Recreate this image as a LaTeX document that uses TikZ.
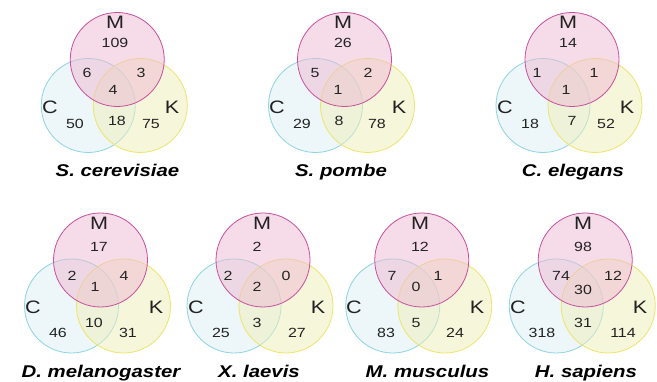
\documentclass[tikz,border=0pt]{standalone}
\usepackage{fontspec}
\setmainfont{Liberation Sans}
\newfontfamily\widefont[FakeStretch=1.2]{Liberation Sans}
\definecolor{cfill}{HTML}{DDF1F5}
\definecolor{kfill}{HTML}{EFEFB9}
\definecolor{mfill}{HTML}{EFB9D3}
\definecolor{cline}{HTML}{8ED4E2}
\definecolor{kline}{HTML}{EDE56A}
\definecolor{mline}{HTML}{C8509E}
\definecolor{txt}{HTML}{222222}
\tikzset{
  setbase/.style={circle, minimum size=94pt, inner sep=0pt, fill opacity=0.5, draw opacity=1, line width=0.8pt},
  setc/.style={setbase, fill=cfill, draw=cline},
  setk/.style={setbase, fill=kfill, draw=kline},
  setm/.style={setbase, fill=mfill, draw=mline},
  num/.style={inner sep=0pt, font=\widefont\fontsize{13.3}{13.3}\selectfont, text=txt},
  setlab/.style={inner sep=0pt, font=\widefont\fontsize{18}{18}\selectfont, text=txt},
  ttl/.style={inner sep=0pt, anchor=base, font=\widefont\fontsize{17}{17}\selectfont\bfseries\itshape, text=black}
}
\newcommand\venncirc[3]{%
  \node[setc] (#1c) at ({#2-26},{#3}) {};
  \node[setk] (#1k) at ({#2+26},{#3}) {};
  \node[setm] (#1m) at ({#2+3},{#3-46}) {};
}
\begin{document}
\begin{tikzpicture}[x=1pt,y=-1pt]
\useasboundingbox (0,0) rectangle (657,382);
\fill[white] (0,0) rectangle (657,382);
% circles
\venncirc{a}{114.25}{105.5}
\venncirc{b}{341.5}{105.5}
\venncirc{d}{569}{105.5}
\venncirc{e}{97.5}{306}
\venncirc{f}{260}{306}
\venncirc{g}{418.75}{306}
\venncirc{h}{582.25}{306}
% S. cerevisiae
\node[setlab] (aM) at (115,22) {M};
\node[setlab] (aC) at (50,107) {C};
\node[setlab] (aK) at (172,107) {K};
\node[num] (a1) at (115,43) {109};
\node[num] (a2) at (87,73) {6};
\node[num] (a3) at (141,73) {3};
\node[num] (a4) at (113,90) {4};
\node[num] (a5) at (75,124) {50};
\node[num] (a6) at (117,121) {18};
\node[num] (a7) at (151,124) {75};
\node[ttl] (at) at (117.5,177) {S. cerevisiae};
% S. pombe
\node[setlab] (bM) at (343,22) {M};
\node[setlab] (bC) at (277,107) {C};
\node[setlab] (bK) at (399,107) {K};
\node[num] (b1) at (343,43) {26};
\node[num] (b2) at (315,73) {5};
\node[num] (b3) at (368,73) {2};
\node[num] (b4) at (338,90) {1};
\node[num] (b5) at (302,124) {29};
\node[num] (b6) at (339,121) {8};
\node[num] (b7) at (377,124) {78};
\node[ttl] (bt) at (341,177) {S. pombe};
% C. elegans
\node[setlab] (dM) at (568,22) {M};
\node[setlab] (dC) at (505,107) {C};
\node[setlab] (dK) at (627,107) {K};
\node[num] (d1) at (568,43) {14};
\node[num] (d2) at (537,73) {1};
\node[num] (d3) at (594,73) {1};
\node[num] (d4) at (566,90) {1};
\node[num] (d5) at (530,124) {18};
\node[num] (d6) at (572,121) {7};
\node[num] (d7) at (606,124) {52};
\node[ttl] (dt) at (573,177) {C. elegans};
% D. melanogaster
\node[setlab] (eM) at (99,223) {M};
\node[setlab] (eC) at (33,307) {C};
\node[setlab] (eK) at (156,307) {K};
\node[num] (e1) at (99,247) {17};
\node[num] (e2) at (72,276) {2};
\node[num] (e3) at (124,276) {4};
\node[num] (e4) at (95,287) {1};
\node[num] (e5) at (58,333) {46};
\node[num] (e6) at (94,323) {10};
\node[num] (e7) at (128,333) {31};
\node[ttl] (et) at (101,378) {D. melanogaster};
% X. laevis
\node[setlab] (fM) at (262,223) {M};
\node[setlab] (fC) at (196,307) {C};
\node[setlab] (fK) at (318,307) {K};
\node[num] (f1) at (257,247) {2};
\node[num] (f2) at (228,276) {2};
\node[num] (f3) at (286,276) {0};
\node[num] (f4) at (257,287) {2};
\node[num] (f5) at (221,333) {25};
\node[num] (f6) at (257,323) {3};
\node[num] (f7) at (297,333) {27};
\node[ttl] (ft) at (259,378) {X. laevis};
% M. musculus
\node[setlab] (gM) at (420,223) {M};
\node[setlab] (gC) at (354,307) {C};
\node[setlab] (gK) at (477,307) {K};
\node[num] (g1) at (420,247) {12};
\node[num] (g2) at (392,276) {7};
\node[num] (g3) at (438,276) {1};
\node[num] (g4) at (416,287) {0};
\node[num] (g5) at (386,333) {83};
\node[num] (g6) at (416,323) {5};
\node[num] (g7) at (455,333) {24};
\node[ttl] (gt) at (427.5,378) {M. musculus};
% H. sapiens
\node[setlab] (hM) at (583,223) {M};
\node[setlab] (hC) at (518,307) {C};
\node[setlab] (hK) at (640,307) {K};
\node[num] (h1) at (583,247) {98};
\node[num] (h2) at (561,276) {74};
\node[num] (h3) at (613,276) {12};
\node[num] (h4) at (583,290) {30};
\node[num] (h5) at (542,333) {318};
\node[num] (h6) at (583,323) {31};
\node[num] (h7) at (623,333) {114};
\node[ttl] (ht) at (586,378) {H. sapiens};
\end{tikzpicture}
\end{document}
